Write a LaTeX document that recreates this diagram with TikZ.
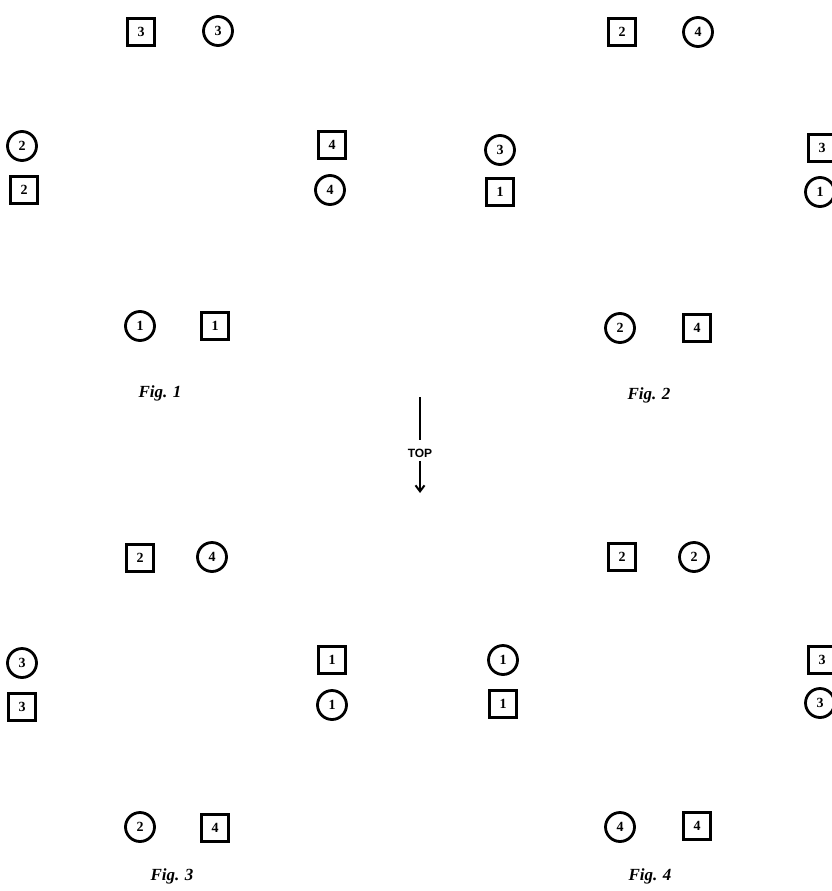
\documentclass[tikz,border=0pt]{standalone}
\usepackage{fontspec}
\setmainfont{Liberation Serif}
\newfontfamily\topfont{Liberation Sans}
\usetikzlibrary{arrows.meta}
\tikzset{
  sq/.style={draw, line width=3pt, minimum size=27pt, inner sep=0pt, font=\bfseries\fontsize{14}{14}\selectfont},
  ci/.style={draw, circle, line width=2.8pt, minimum size=29pt, inner sep=0pt, font=\bfseries\fontsize{14}{14}\selectfont},
  figlab/.style={font=\bfseries\itshape\fontsize{17}{17}\selectfont},
}
\begin{document}
\begin{tikzpicture}[x=1pt,y=-1pt]
\useasboundingbox (0,0) rectangle (832,891);
% Fig 1
\node[sq] (f1s3) at (141,32) {3};
\node[ci] (f1c3) at (218,31) {3};
\node[ci] (f1c2) at (22,146) {2};
\node[sq] (f1s2) at (24,190) {2};
\node[sq] (f1s4) at (332,145) {4};
\node[ci] (f1c4) at (330,190) {4};
\node[ci] (f1c1) at (140,326) {1};
\node[sq] (f1s1) at (215,326) {1};
\node[figlab] (f1l) at (160,393) {Fig. 1};
% Fig 2
\node[sq] (f2s2) at (622,32) {2};
\node[ci] (f2c4) at (698,32) {4};
\node[ci] (f2c3) at (500,150) {3};
\node[sq] (f2s1) at (500,192) {1};
\node[sq] (f2s3) at (822,148) {3};
\node[ci] (f2c1) at (820,192) {1};
\node[ci] (f2c2) at (620,328) {2};
\node[sq] (f2s4) at (697,328) {4};
\node[figlab] (f2l) at (649,395) {Fig. 2};
% TOP
\coordinate (t1) at (420,397);
\coordinate (t2) at (420,440);
\node[font=\topfont\bfseries\fontsize{12}{12}\selectfont] (top) at (420,453) {TOP};
\coordinate (t3) at (420,493);
\draw[line width=2.2pt] (t1) -- (t2);
\draw[line width=2pt, -{Straight Barb[length=6pt,width=9pt,line width=2pt]}] (top.south) -- (t3);
% Fig 3
\node[sq] (f3s2) at (140,558) {2};
\node[ci] (f3c4) at (212,557) {4};
\node[ci] (f3c3) at (22,663) {3};
\node[sq] (f3s3) at (22,707) {3};
\node[sq] (f3s1) at (332,660) {1};
\node[ci] (f3c1) at (332,705) {1};
\node[ci] (f3c2) at (140,827) {2};
\node[sq] (f3s4) at (215,828) {4};
\node[figlab] (f3l) at (172,876) {Fig. 3};
% Fig 4
\node[sq] (f4s2) at (622,557) {2};
\node[ci] (f4c2) at (694,557) {2};
\node[ci] (f4c1) at (503,660) {1};
\node[sq] (f4s1) at (503,704) {1};
\node[sq] (f4s3) at (822,660) {3};
\node[ci] (f4c3) at (820,703) {3};
\node[ci] (f4c4) at (620,827) {4};
\node[sq] (f4s4) at (697,826) {4};
\node[figlab] (f4l) at (650,876) {Fig. 4};
\end{tikzpicture}
\end{document}
